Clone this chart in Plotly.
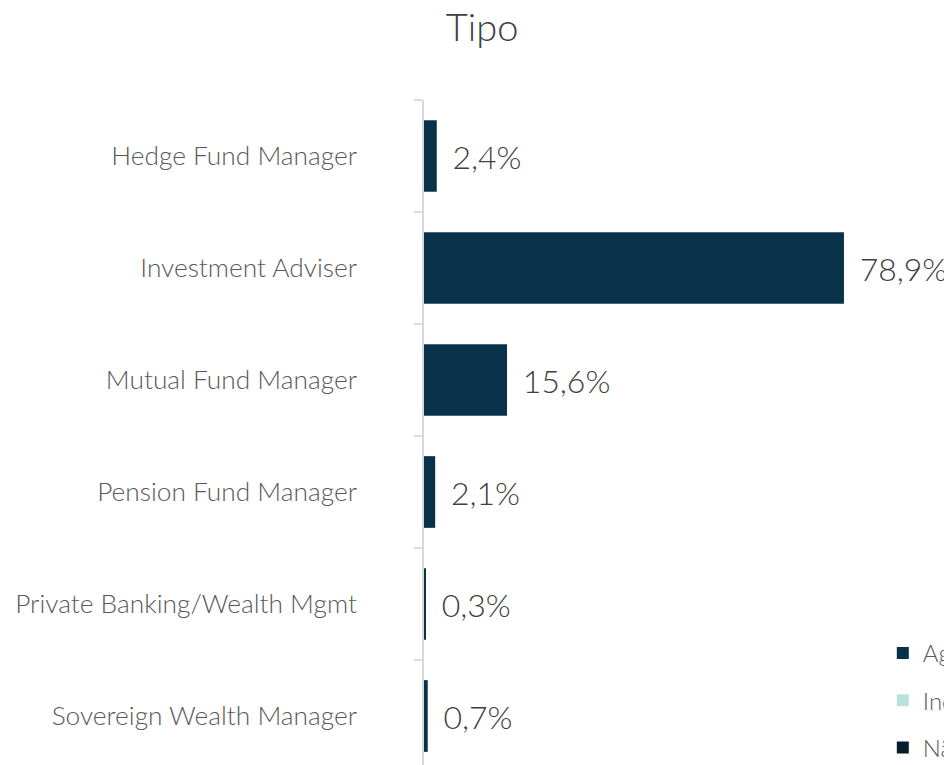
import plotly.graph_objects as go

categories = ["Hedge Fund Manager", "Investment Adviser", "Mutual Fund Manager",
              "Pension Fund Manager", "Private Banking/Wealth Mgmt", "Sovereign Wealth Manager"]
agregado = [2.4, 78.9, 15.6, 2.1, 0.3, 0.7]
independente = [0, 0, 0, 0, 0, 0]
nao_informado = [0, 0, 0, 0, 0, 0]
series_names = ["Agregado", "Independente", "Não informado"]
series_colors = ["#08324A", "#B9E0DF", "#061E2C"]

FONT = "Lato"
fig = go.Figure()
fig.add_trace(go.Bar(
    y=categories, x=agregado, orientation="h", name=series_names[0],
    marker=dict(color=series_colors[0], line=dict(width=0)),
    texttemplate="\u00a0\u2009%{x:.1f}%", textposition="outside", cliponaxis=False,
    textfont=dict(family=FONT, size=32, color="#404040", weight=300),
    width=0.64, legendgroup="a"))
for vals, nm, col, g in [(independente, series_names[1], series_colors[1], "b"),
                         (nao_informado, series_names[2], series_colors[2], "c")]:
    fig.add_trace(go.Bar(y=categories, x=vals, orientation="h", name=nm,
                         marker=dict(color=col, line=dict(width=0)), width=0.64,
                         legendgroup=g, hoverinfo="skip"))

fig.update_layout(
    width=952, height=765,
    margin=dict(l=416, r=0, t=92, b=1, autoexpand=False),
    barmode="overlay",
    separators=",.",
    plot_bgcolor="white", paper_bgcolor="white",
    title=dict(text="Tipo", x=0.498, xanchor="center", y=0.974, yanchor="middle",
               font=dict(family=FONT, size=38, color="#404040", weight=300)),
    xaxis=dict(range=[0, 100.7], visible=False, showgrid=False, zeroline=False),
    yaxis=dict(range=[5.5, -0.5], showline=True, linecolor="#D9D9D9", linewidth=1.5,
               ticks="outside", tickson="boundaries", ticklen=8, tickcolor="#D9D9D9",
               tickwidth=1.5, showgrid=False, ticklabelstandoff=60,
               tickfont=dict(family=FONT, size=26.3, color="#595959", weight=300)),
    legend=dict(x=0.856, xanchor="left", y=0.210, yanchor="top", itemwidth=30,
                tracegroupgap=13, bgcolor="rgba(0,0,0,0)",
                font=dict(family=FONT, size=24, color="#595959", weight=300)),
    showlegend=True,
)
fig.write_html("out.html")
